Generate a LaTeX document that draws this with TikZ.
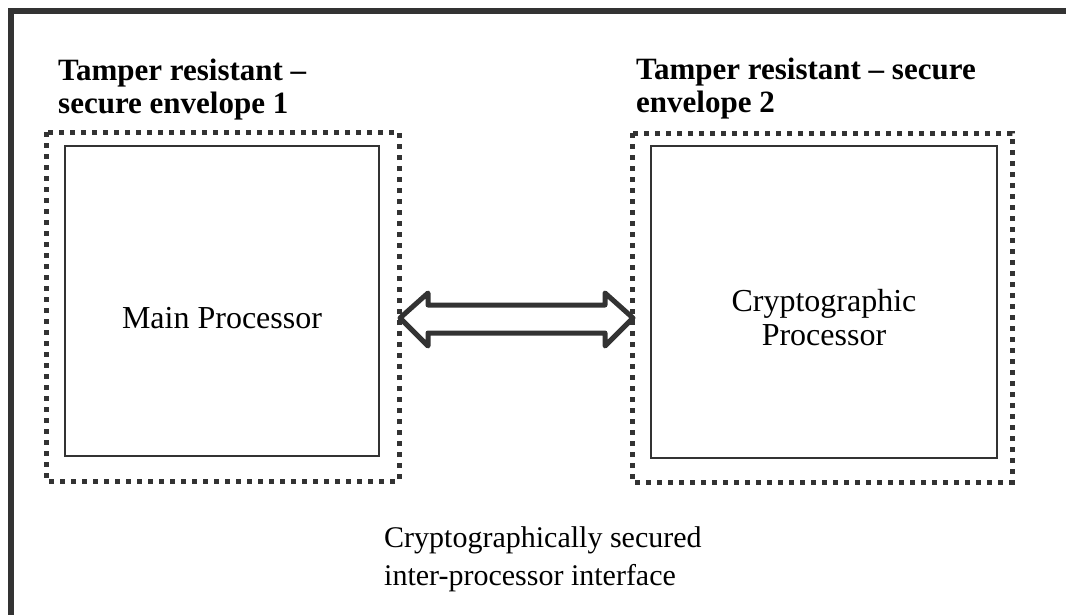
\documentclass[tikz,border=0pt]{standalone}
\usepackage{fontspec}
\setmainfont{Liberation Serif}
\begin{document}
\begin{tikzpicture}[x=1pt,y=-1pt,
  frame/.style={draw=black!80,line width=6pt},
  envelope/.style={draw=black!80,line width=5pt,dash pattern=on 5pt off 6pt},
  procbox/.style={draw=black!80,line width=1.5pt,inner sep=0pt},
  bigarrow/.style={draw=black!80,line width=5pt,line join=round,fill=white},
  title/.style={font=\fontsize{31}{33}\selectfont\bfseries,anchor=base west,inner sep=0pt},
  label/.style={font=\fontsize{32}{34}\selectfont,inner sep=0pt},
  note/.style={font=\fontsize{30}{36}\selectfont,inner sep=0pt,anchor=base west}]
\useasboundingbox (0,0) rectangle (1066,614);
% outer frame
\coordinate (fbl) at (11,640);
\coordinate (ftl) at (11,11);
\coordinate (ftr) at (1090,11);
\draw[frame] (fbl) -- (ftl) -- (ftr);
% envelopes
\draw[envelope] (46,132) rectangle (399,481);
\draw[envelope] (632,133) rectangle (1012,482);
% processors
\node[procbox, minimum width=314pt, minimum height=310pt] (mp) at (222,301) {};
\node[procbox, minimum width=346pt, minimum height=312pt] (cp) at (824,302) {};
\node[label] (mpl) at (222,318) {Main Processor};
\node[label,align=center] (cpl) at (824,318) {Cryptographic\\Processor};
% titles
\node[title] (t1a) at (58,80) {Tamper resistant –};
\node[title] (t1b) at (58,113) {secure envelope 1};
\node[title] (t2a) at (636,79) {Tamper resistant – secure};
\node[title] (t2b) at (636,112) {envelope 2};
% double arrow
\coordinate (lt) at (400,318);
\coordinate (rt) at (633,318);
\draw[bigarrow] (lt) -- (428,293) -- (428,305) -- (605,305) -- (605,293) -- (rt)
  -- (605,346) -- (605,333) -- (428,333) -- (428,346) -- cycle;
% bottom label
\node[note] (b1) at (384,547) {Cryptographically secured};
\node[note] (b2) at (384,585) {inter-processor interface};
\end{tikzpicture}
\end{document}
